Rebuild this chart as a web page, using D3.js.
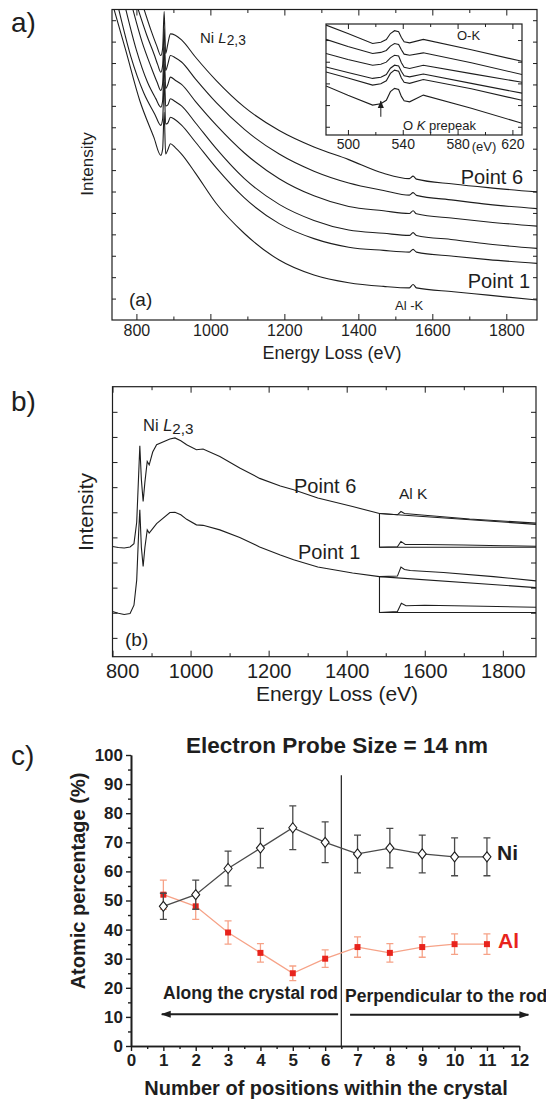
<!DOCTYPE html>
<html>
<head>
<meta charset="utf-8">
<script src="https://cdn.jsdelivr.net/npm/d3@7"></script>
<style>
  body { margin: 0; background: #fff; }
  svg text { font-family: "Liberation Sans", Arial, Helvetica, sans-serif; }
</style>
</head>
<body>
<svg id="fig" width="546" height="1101"></svg>
<script>
// ---------- data : panel a (energy eV, intensity arb.) ----------
const ptA1 = [[738,14.6],[771,12.6],[809,10.25],[847,8.54],[866,7.69],[871,8.0],[875,9.7],[879,7.75],[885,7.95],[892,8.23],[905,8.05],[922,7.75],[960,6.85],[1016,5.44],[1092,4.04],[1186,2.8],[1280,2.1],[1374,1.74],[1468,1.57],[1538,1.5],[1548,1.66],[1557,1.5],[1657,1.32],[1751,1.16],[1885,0.93]];
const ptA2 = [[751,14.6],[785,12.3],[820,10.6],[850,9.6],[866,9.09],[871,9.4],[875,11.1],[879,9.15],[885,9.2],[892,9.47],[905,9.35],[922,9.1],[960,8.3],[1016,7.1],[1092,5.7],[1186,4.5],[1280,3.8],[1374,3.4],[1468,3.25],[1538,3.17],[1548,3.3],[1557,3.17],[1657,2.98],[1751,2.82],[1885,2.64]];
const ptA3 = [[770,14.6],[800,12.6],[830,11.1],[852,10.35],[866,9.94],[871,10.25],[875,11.95],[879,10.0],[885,10.05],[892,10.33],[905,10.2],[922,10.0],[960,9.2],[1016,8.0],[1092,6.6],[1186,5.4],[1280,4.65],[1374,4.2],[1468,4.05],[1538,3.95],[1548,4.08],[1557,3.95],[1657,3.75],[1751,3.55],[1885,3.34]];
const ptA4 = [[789,14.6],[815,13.0],[840,11.8],[856,11.1],[866,10.72],[871,11.05],[875,12.75],[879,10.8],[885,11.0],[892,11.34],[905,11.2],[922,11.0],[960,10.2],[1016,9.1],[1092,7.8],[1186,6.6],[1280,5.8],[1374,5.3],[1468,5.1],[1538,4.97],[1548,5.1],[1557,4.96],[1657,4.75],[1751,4.58],[1885,4.38]];
const ptA5 = [[803,14.6],[828,13.3],[848,12.4],[858,11.9],[866,11.57],[871,11.9],[875,13.6],[879,11.65],[885,11.95],[892,12.35],[905,12.25],[922,12.05],[960,11.25],[1016,10.15],[1092,8.9],[1186,7.75],[1280,6.95],[1374,6.4],[1468,6.05],[1538,5.83],[1548,5.95],[1557,5.82],[1657,5.6],[1751,5.4],[1885,5.2]];
const ptA6 = [[819,14.6],[840,13.5],[855,12.8],[866,12.35],[871,12.7],[875,14.4],[879,12.45],[885,12.9],[892,13.36],[905,13.3],[922,13.08],[960,12.27],[1016,11.18],[1092,9.94],[1186,8.85],[1280,8.08],[1374,7.49],[1468,6.85],[1538,6.6],[1548,6.72],[1557,6.58],[1657,6.35],[1751,6.18],[1885,5.98]];
const aMajor = [800, 1000, 1200, 1400, 1600, 1800];
const aMinor = [900, 1100, 1300, 1500, 1700];
const aYTicks = d3.range(1, 15);

// inset of panel a (O-K edge)
const insetE = [484, 500, 518, 524, 528, 531, 534, 537, 539, 541, 545, 555, 590, 627];
const insA = [5.69, 5.3, 4.84, 4.9, 5.02, 5.3, 5.43, 5.38, 5.12, 4.92, 4.87, 5.03, 4.55, 4.02];
const insB = [5.03, 4.7, 4.38, 4.43, 4.52, 4.72, 4.84, 4.8, 4.55, 4.35, 4.30, 4.41, 3.95, 3.41];
const insC = [4.38, 4.1, 3.84, 3.88, 3.98, 4.18, 4.30, 4.26, 3.95, 3.74, 3.69, 3.84, 3.45, 3.05];
const insD = [3.76, 3.5, 3.23, 3.28, 3.41, 3.7, 3.84, 3.8, 3.55, 3.35, 3.30, 3.43, 3.0, 2.55];
const insE = [3.53, 3.25, 2.92, 2.98, 3.12, 3.46, 3.61, 3.56, 3.25, 3.05, 3.00, 3.18, 2.75, 2.22];
const insF = [2.88, 2.45, 2.00, 2.06, 2.22, 2.62, 2.77, 2.72, 2.4, 2.2, 2.15, 2.46, 1.85, 1.16];
const insMajor = [500, 540, 580, 620];
const insMinor = [520, 560, 600];

// ---------- data : panel b ----------
const specB6 = [[800,4.64],[815,4.6],[830,4.58],[845,4.62],[855,4.75],[862,5.6],[867,7.5],[870,8.65],[874,7.3],[878.5,6.43],[883,7.2],[889,8.02],[894,7.89],[903,8.4],[913,8.69],[947,8.92],[960,8.96],[975,8.85],[990,8.69],[1015,8.49],[1032,8.52],[1075,8.22],[1126,7.76],[1177,7.35],[1230,7.05],[1264,6.9],[1326,6.57],[1415,6.23],[1484,5.95],[1530,5.9],[1539,6.03],[1548,5.95],[1600,5.88],[1715,5.73],[1885,5.57]];
const specB1 = [[800,2.05],[815,1.98],[830,1.93],[845,1.97],[855,2.3],[862,3.3],[867,5.2],[870,6.1],[874,4.6],[878.5,3.84],[883,4.6],[889,5.3],[894,5.17],[903,5.35],[913,5.55],[947,5.99],[960,6.0],[975,5.9],[990,5.72],[1015,5.5],[1032,5.48],[1075,5.3],[1126,5.0],[1177,4.62],[1230,4.3],[1264,4.11],[1326,3.82],[1415,3.58],[1484,3.44],[1530,3.46],[1539,3.82],[1548,3.72],[1563,3.68],[1648,3.6],[1776,3.44],[1885,3.27]];
const bgB6 = [[1484,5.95],[1885,5.52]];
const bgB1 = [[1484,3.44],[1885,3.0]];
const sigB6 = [[1484,4.61],[1530,4.63],[1539,4.84],[1550,4.72],[1600,4.72],[1700,4.7],[1800,4.67],[1885,4.65]];
const sigB1 = [[1484,2.01],[1530,2.05],[1540,2.38],[1552,2.28],[1600,2.3],[1750,2.26],[1885,2.22]];
const baseB6 = 4.61, baseB1 = 2.01, splitB = 1484;
const bMajor = [800, 1000, 1200, 1400, 1600, 1800];
const bMinor = [900, 1100, 1300, 1500, 1700];
const bYTicks = d3.range(1, 11);

// ---------- data : panel c ----------
const positions = [1, 2, 3, 4, 5, 6, 7, 8, 9, 10, 11];
const niPct = [48, 52, 61, 68, 75, 70, 66, 68, 66, 65, 65];
const niErr = [4.5, 5, 6, 6.8, 7.5, 7, 6.5, 6.8, 6.5, 6.5, 6.5];
const alPct = [52, 48, 39, 32, 25, 30, 34, 32, 34, 35, 35];
const alErr = [5, 4.5, 4, 3.2, 2.5, 3, 3.5, 3.2, 3.5, 3.5, 3.5];

const ink = '#1e1e1e';
const svg = d3.select('#fig');
const defs = svg.append('defs');

function styleAxis(sel, size) {
  sel.select('.domain').remove();
  sel.selectAll('line').attr('stroke', ink).attr('stroke-width', 1);
  sel.selectAll('text').attr('fill', ink).style('font-size', size + 'px');
}

// closed frame with inward ticks on every side
function boxFrame(g, x, y, o) {
  const [l, r] = x.range(), [b, t] = y.range();
  const mk = (axis, tr, ticks, len, labels) => {
    axis.tickValues(ticks).tickSize(-len).tickPadding(o.pad)
        .tickFormat(labels ? d3.format('d') : '');
    return g.append('g').attr('transform', tr).call(axis).call(s => styleAxis(s, o.font));
  };
  const bottom = mk(d3.axisBottom(x), `translate(0,${b})`, o.xMajor, o.major, true);
  mk(d3.axisBottom(x), `translate(0,${b})`, o.xMinor, o.minor, false);
  mk(d3.axisTop(x), `translate(0,${t})`, o.xMajor, o.major, false);
  mk(d3.axisTop(x), `translate(0,${t})`, o.xMinor, o.minor, false);
  if (o.yTicks) {
    mk(d3.axisLeft(y), `translate(${l},0)`, o.yTicks, o.ytick, false);
    mk(d3.axisRight(y), `translate(${r},0)`, o.yTicks, o.ytick, false);
  }
  g.append('rect').attr('x', l).attr('y', t).attr('width', r - l).attr('height', b - t)
    .attr('fill', 'none').attr('stroke', ink).attr('stroke-width', 1.2);
  return bottom;
}

function label(g, txt, x, y, size, opt) {
  opt = opt || {};
  return g.append('text').attr('x', x).attr('y', y)
    .attr('text-anchor', opt.anchor || 'start')
    .attr('font-weight', opt.bold ? 'bold' : null)
    .attr('fill', opt.color || ink)
    .style('font-size', size + 'px').text(txt);
}

function niL23(g, x, y, size) {
  const t = g.append('text').attr('x', x).attr('y', y).attr('fill', ink).style('font-size', size + 'px');
  t.append('tspan').text('Ni ');
  t.append('tspan').attr('font-style', 'italic').text('L');
  t.append('tspan').attr('dy', size * 0.16).style('font-size', (size * 0.92) + 'px').text('2,3');
}

// ================= panel a =================
const ga = svg.append('g');
const xa = d3.scaleLinear().domain([734, 1883]).range([112, 537]);
const ya = d3.scaleLinear().domain([0, 14.5]).range([320, 9.5]);
defs.append('clipPath').attr('id', 'clipA').append('rect')
  .attr('x', 112).attr('y', 9.5).attr('width', 425).attr('height', 310.5);

const lineA = d3.line().x(d => xa(d[0])).y(d => ya(d[1])).curve(d3.curveMonotoneX);
ga.append('g').attr('clip-path', 'url(#clipA)')
  .selectAll('path').data([ptA1, ptA2, ptA3, ptA4, ptA5, ptA6]).join('path')
  .attr('d', lineA).attr('fill', 'none').attr('stroke', ink).attr('stroke-width', 1.1);

boxFrame(ga, xa, ya, { xMajor: aMajor, xMinor: aMinor, yTicks: aYTicks,
  major: 6, minor: 3.5, ytick: 4, pad: 5, font: 16 });

label(ga, 'a)', 11, 32, 28);
label(ga, 'Energy Loss (eV)', 332, 359, 18, { anchor: 'middle' });
ga.append('text').attr('transform', 'translate(93,164) rotate(-90)')
  .attr('text-anchor', 'middle').attr('fill', ink).style('font-size', '17px').text('Intensity');
niL23(ga, 200, 43, 15);
label(ga, 'Point 6', 523, 184, 20, { anchor: 'end' });
label(ga, 'Point 1', 530, 288, 20, { anchor: 'end' });
label(ga, '(a)', 129, 306, 19);
label(ga, 'Al -K', 395, 310, 13);

// inset
const gi = ga.append('g');
const xi = d3.scaleLinear().domain([484, 627]).range([326, 522]);
const yi = d3.scaleLinear().domain([0.62, 5.74]).range([135, 24]);
gi.append('rect').attr('x', 326).attr('y', 24).attr('width', 196).attr('height', 111).attr('fill', '#fff');
defs.append('clipPath').attr('id', 'clipI').append('rect')
  .attr('x', 326).attr('y', 24).attr('width', 196).attr('height', 111);
const lineI = d3.line().x((d, i) => xi(insetE[i])).y(d => yi(d));
gi.append('g').attr('clip-path', 'url(#clipI)')
  .selectAll('path').data([insA, insB, insC, insD, insE, insF]).join('path')
  .attr('d', lineI).attr('fill', 'none').attr('stroke', ink).attr('stroke-width', 1.1);
boxFrame(gi, xi, yi, { xMajor: insMajor, xMinor: insMinor, yTicks: [1, 2, 3, 4, 5],
  major: 5, minor: 3, ytick: 4, pad: 4, font: 14 });
label(gi, '(eV)', 484, 151, 13, { anchor: 'middle' });
label(gi, 'O-K', 457, 40, 13);
const pre = label(gi, '', 403, 130, 13);
pre.append('tspan').text('O ');
pre.append('tspan').attr('font-style', 'italic').text('K');
pre.append('tspan').text(' prepeak');
defs.append('marker').attr('id', 'arrI').attr('viewBox', '0 0 10 10')
  .attr('refX', 9).attr('refY', 5).attr('markerUnits', 'userSpaceOnUse')
  .attr('markerWidth', 8).attr('markerHeight', 8).attr('orient', 'auto')
  .append('path').attr('d', 'M0,1L10,5L0,9Z').attr('fill', ink);
gi.append('line').attr('x1', xi(524)).attr('x2', xi(524)).attr('y1', yi(1.46)).attr('y2', yi(2.18))
  .attr('stroke', ink).attr('stroke-width', 1).attr('marker-end', 'url(#arrI)');

// ================= panel b =================
const gb = svg.append('g');
const xb = d3.scaleLinear().domain([800, 1885]).range([112.5, 536]);
const yb = d3.scaleLinear().domain([0.25, 11]).range([656.7, 386.7]);
const lineB = d3.line().x(d => xb(d[0])).y(d => yb(d[1]));
gb.selectAll('path.spec').data([specB6, specB1, bgB6, bgB1, sigB6, sigB1]).join('path')
  .attr('class', 'spec').attr('d', lineB).attr('fill', 'none')
  .attr('stroke', ink).attr('stroke-width', 1.1);
// vertical jump and baseline of the magnified Al K windows
[[bgB6[0][1], baseB6], [bgB1[0][1], baseB1]].forEach(([top, base]) => {
  gb.append('path')
    .attr('d', lineB([[splitB, top], [splitB, base], [1885, base]]))
    .attr('fill', 'none').attr('stroke', ink).attr('stroke-width', 1.1);
});
const bAxis = boxFrame(gb, xb, yb, { xMajor: bMajor, xMinor: bMinor, yTicks: bYTicks,
  major: 6, minor: 3.5, ytick: 5, pad: 7, font: 20 });
bAxis.selectAll('.tick').filter(d => d === 800).select('text')
  .attr('text-anchor', 'start').attr('x', -7);

label(gb, 'b)', 11, 411, 28);
label(gb, 'Energy Loss (eV)', 337, 701, 21, { anchor: 'middle' });
gb.append('text').attr('transform', 'translate(93,512) rotate(-90)')
  .attr('text-anchor', 'middle').attr('fill', ink).style('font-size', '21px').text('Intensity');
niL23(gb, 143, 431, 16.5);
label(gb, 'Point 6', 294, 493, 20);
label(gb, 'Point 1', 298, 559, 20);
label(gb, 'Al K', 399, 499, 15.5);
label(gb, '(b)', 125, 646, 19);

// ================= panel c =================
const gc = svg.append('g');
const xc = d3.scaleLinear().domain([0, 12]).range([131, 519.3]);
const yc = d3.scaleLinear().domain([0, 100]).range([1046, 755]);
const red = '#e8231c', salmon = '#f6a287', gray = '#4a4a4a';

function cAxis(axis, tr, ticks, len, labels) {
  axis.tickValues(ticks).tickSize(len).tickSizeOuter(0).tickPadding(3)
      .tickFormat(labels ? d3.format('d') : '');
  const s = gc.append('g').attr('transform', tr).call(axis);
  s.select('.domain').attr('stroke', ink).attr('stroke-width', 1.6);
  s.selectAll('line').attr('stroke', ink).attr('stroke-width', 1.4);
  s.selectAll('text').attr('fill', ink).attr('font-weight', 'bold').style('font-size', '17px');
}
cAxis(d3.axisBottom(xc), 'translate(0,1046)', d3.range(0, 13), 5, true);
cAxis(d3.axisBottom(xc), 'translate(0,1046)', d3.range(0.5, 12, 1), 3, false);
cAxis(d3.axisLeft(yc), 'translate(131,0)', d3.range(0, 101, 10), 5, true);
cAxis(d3.axisLeft(yc), 'translate(131,0)', d3.range(5, 100, 10), 3, false);

// divider between the two scan directions
gc.append('line').attr('x1', xc(6.5)).attr('x2', xc(6.5)).attr('y1', yc(0)).attr('y2', yc(93))
  .attr('stroke', ink).attr('stroke-width', 1.2);

function series(vals, errs, lineCol, errCol, marker) {
  const pts = positions.map((p, i) => ({ x: p, v: vals[i], e: errs[i] }));
  gc.append('path').datum(pts)
    .attr('d', d3.line().x(d => xc(d.x)).y(d => yc(d.v)))
    .attr('fill', 'none').attr('stroke', lineCol).attr('stroke-width', 1.3);
  const eb = gc.append('g').attr('stroke', errCol).attr('stroke-width', 1.3);
  eb.selectAll('.bar').data(pts).join('path')
    .attr('d', d => {
      const x = xc(d.x), y0 = yc(d.v - d.e), y1 = yc(d.v + d.e);
      return `M${x},${y0}V${y1}M${x - 3.5},${y0}H${x + 3.5}M${x - 3.5},${y1}H${x + 3.5}`;
    });
  marker(gc.append('g').selectAll('.m').data(pts).join('path')
    .attr('transform', d => `translate(${xc(d.x)},${yc(d.v)})`));
}
series(alPct, alErr, salmon, salmon, s => s.attr('d', 'M-3,-3H3V3H-3Z').attr('fill', red));
series(niPct, niErr, gray, gray, s => s.attr('d', 'M0,-5L4,0L0,5L-4,0Z')
  .attr('fill', '#fff').attr('stroke', ink).attr('stroke-width', 1.1));

// direction arrows
defs.append('marker').attr('id', 'arrC').attr('viewBox', '0 0 10 10')
  .attr('refX', 9).attr('refY', 5).attr('markerWidth', 5).attr('markerHeight', 5)
  .attr('orient', 'auto')
  .append('path').attr('d', 'M0,1.5L10,5L0,8.5Z').attr('fill', ink);
[[[6.4, 10.9], [0.95, 10.9]], [[6.77, 10.7], [12.28, 10.7]]].forEach(seg => {
  gc.append('line')
    .attr('x1', xc(seg[0][0])).attr('y1', yc(seg[0][1]))
    .attr('x2', xc(seg[1][0])).attr('y2', yc(seg[1][1]))
    .attr('stroke', ink).attr('stroke-width', 2).attr('marker-end', 'url(#arrC)');
});

label(gc, 'c)', 11, 765, 28);
label(gc, 'Electron Probe Size = 14 nm', 337, 753, 22.5, { anchor: 'middle', bold: true });
gc.append('text').attr('transform', 'translate(85,881) rotate(-90)')
  .attr('text-anchor', 'middle').attr('font-weight', 'bold').attr('fill', ink)
  .style('font-size', '20px').text('Atomic percentage (%)');
label(gc, 'Number of positions within the crystal', 326, 1095, 20, { anchor: 'middle', bold: true });
label(gc, 'Along the crystal rod', 163, 999, 17.5, { bold: true });
label(gc, 'Perpendicular to the rod', 345, 1002, 17.5, { bold: true });
label(gc, 'Ni', 497, 860, 21, { bold: true });
label(gc, 'Al', 498, 948, 21, { bold: true, color: red });
</script>
</body>
</html>
